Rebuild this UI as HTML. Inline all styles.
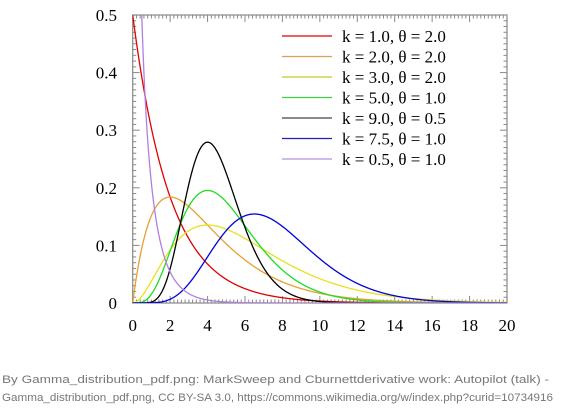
<!DOCTYPE html>
<html><head><meta charset="utf-8"><style>
html,body{margin:0;padding:0;background:#fff;}
svg{display:block;}
</style></head><body>
<svg id="chart" width="563" height="411" xmlns="http://www.w3.org/2000/svg">
<rect x="132.7" y="15" width="374.3" height="288" fill="#fff" stroke="#888" stroke-width="1.2"/>
<g id="ticks"></g>
<g id="curves"></g>
<g id="legend"></g>
<text x="2" y="383" font-family="Liberation Sans, sans-serif" font-size="11" fill="#777" textLength="547" lengthAdjust="spacingAndGlyphs">By Gamma_distribution_pdf.png: MarkSweep and Cburnettderivative work: Autopilot (talk) -</text>
<text x="2" y="401" font-family="Liberation Sans, sans-serif" font-size="11" fill="#777" textLength="551" lengthAdjust="spacingAndGlyphs">Gamma_distribution_pdf.png, CC BY-SA 3.0, https://commons.wikimedia.org/w/index.php?curid=10734916</text>
</svg>
<script>
const shapeK = [1.0, 2.0, 3.0, 5.0, 9.0, 7.5, 0.5];
const scaleTheta = [2.0, 2.0, 2.0, 1.0, 0.5, 1.0, 1.0];
const seriesColors = ['#e00000','#e8a030','#e8e020','#20dd20','#000000','#0000dd','#b080e0'];
const legendColors = ['#e00000','#d8a050','#c8c828','#40d040','#444444','#2020c0','#b090e0'];
const xTicks = [0,2,4,6,8,10,12,14,16,18,20];
const yTicks = [0,0.1,0.2,0.3,0.4,0.5];
const yTickLabels = ['0','0.1','0.2','0.3','0.4','0.5'];

const NS='http://www.w3.org/2000/svg';
const X0=132.7,X1=507,Y0=303,Y1=15;
const xs=v=>X0+(v-0)/(20-0)*(X1-X0);
const ys=v=>Y0-(v-0)/(0.5-0)*(Y0-Y1);
function el(t,a,p){const e=document.createElementNS(NS,t);for(const k in a)e.setAttribute(k,a[k]);p.appendChild(e);return e;}
function lgamma(z){const g=7,c=[0.99999999999980993,676.5203681218851,-1259.1392167224028,771.32342877765313,-176.61502916214059,12.507343278686905,-0.13857109526572012,9.9843695780195716e-6,1.5056327351493116e-7];
 if(z<0.5)return Math.log(Math.PI/Math.sin(Math.PI*z))-lgamma(1-z);z-=1;let a=c[0];const t=z+g+0.5;for(let i=1;i<9;i++)a+=c[i]/(z+i);return 0.5*Math.log(2*Math.PI)+(z+0.5)*Math.log(t)-t+Math.log(a);}
function pdf(x,k,th){if(x<=0)return k<1?1e9:(k===1?1/th:0);return Math.exp((k-1)*Math.log(x)-x/th-lgamma(k)-k*Math.log(th));}

const tg=document.getElementById('ticks');
for(let i=0;i<=100;i++){const v=i*0.2,x=xs(v),major=i%10===0,len=major?7:3.5;
 const a=el('line',{x1:x,x2:x,y1:Y0,y2:Y0-len,stroke:'#888','stroke-width':1},tg);
 
 const b=el('line',{x1:x,x2:x,y1:Y1,y2:Y1+len,stroke:'#888','stroke-width':1},tg);
 }
for(let i=0;i<=50;i++){const v=i*0.01,y=ys(v),major=i%10===0,len=major?7:3.5;
 const a=el('line',{x1:X0,x2:X0+len,y1:y,y2:y,stroke:'#888','stroke-width':1},tg);
 
 const b=el('line',{x1:X1,x2:X1-len,y1:y,y2:y,stroke:'#888','stroke-width':1},tg);
 }
xTicks.forEach(v=>{const t=el('text',{x:xs(v),y:331,'text-anchor':'middle','font-family':'Liberation Serif, serif','font-size':17,fill:'#000'},tg);t.textContent=String(v);
 });
yTicks.forEach((v,i)=>{const t=el('text',{x:117,y:ys(v)+6,'text-anchor':'end','font-family':'Liberation Serif, serif','font-size':17,fill:'#000'},tg);t.textContent=yTickLabels[i];
 });

const svg=document.getElementById('chart');
const defs=el('defs',{},svg);const cp=el('clipPath',{id:'clip'},defs);el('rect',{x:X0,y:Y1,width:X1-X0,height:Y0-Y1},cp);
const cg=document.getElementById('curves');cg.setAttribute('clip-path','url(#clip)');
shapeK.forEach((k,i)=>{let d='';const N=800;
 for(let j=0;j<=N;j++){const x=j/N*20;let y=pdf(x,k,scaleTheta[i]);if(y>2)y=2;d+=(j?'L':'M')+xs(x).toFixed(2)+','+ys(y).toFixed(2);}
 const p=el('path',{d:d,fill:'none',stroke:seriesColors[i],'stroke-width':1.3},cg);
 });

const lg=document.getElementById('legend');
shapeK.forEach((k,i)=>{const y=36+i*20.5;
 const l=el('line',{x1:282,x2:332,y1:y,y2:y,stroke:legendColors[i],'stroke-width':1.3},lg);
 
 const t=el('text',{x:342,y:y+6,'font-family':'Liberation Serif, serif','font-size':17,fill:'#000'},lg);
 t.textContent='k = '+k.toFixed(1)+', θ = '+scaleTheta[i].toFixed(1);
 });
</script>
</body></html>
